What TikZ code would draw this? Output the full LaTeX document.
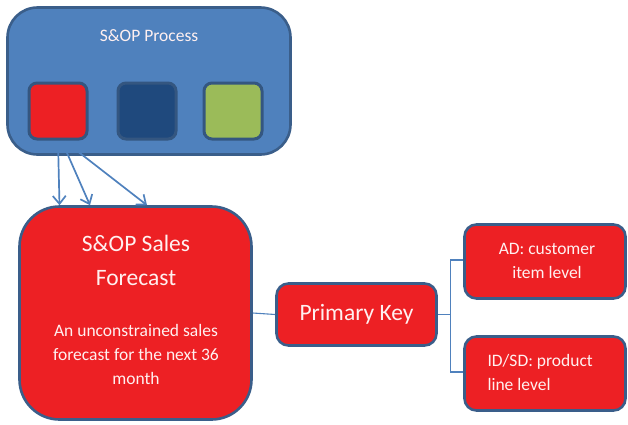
\documentclass[tikz,border=0pt]{standalone}
\usepackage{fontspec}
\setmainfont{Carlito}
\usepackage{xcolor}
\usepackage{tikz}
\usetikzlibrary{positioning, arrows.meta, calc}

\definecolor{boxred}{RGB}{237,32,36}
\definecolor{boxedge}{RGB}{58,94,138}
\definecolor{tileedge}{RGB}{52,86,128}
\definecolor{procblue}{RGB}{79,129,189}
\definecolor{navyblue}{RGB}{31,73,125}
\definecolor{leafgreen}{RGB}{155,187,89}
\definecolor{notewhite}{RGB}{255,240,240}

\tikzset{
	panel/.style={draw=boxedge, line width=2.6pt, rounded corners=#1, inner sep=0pt, text=notewhite},
	tile/.style={panel=8, draw=tileedge, line width=3pt, minimum width=58pt, minimum height=56pt},
	link/.style={draw=procblue, line width=1.1pt},
	feed/.style={draw=procblue, line width=1.7pt, -{Straight Barb[length=8pt, width=13pt, line width=1.7pt]}},
	bigtext/.style={font=\fontsize{23.5}{34}\selectfont, align=center, text=notewhite},
	smalltext/.style={font=\fontsize{17.5}{24}\selectfont, text=notewhite}
}

\begin{document}
\begin{tikzpicture}[x=1pt, y=-1pt]
	% Canvas
	\useasboundingbox (0,0) rectangle (628,424);
	
	% S&OP process panel with its three tiles
	\node[panel=30, fill=procblue, minimum width=283pt, minimum height=147pt] (proc) at (149,81) {};
	\node[smalltext] (proctitle) at (149,36) {S\&OP Process};
	\node[tile, fill=boxred] (sqred) at (58,111) {};
	\node[tile, fill=navyblue] (sqnavy) at (147,111) {};
	\node[tile, fill=leafgreen] (sqgreen) at (233,111) {};
	
	% Sales forecast box
	\node[panel=40, fill=boxred, minimum width=232pt, minimum height=213pt] (fc) at (135.5,313) {};
	\node[bigtext] (fctitle) at (136,260) {S\&OP Sales\\Forecast};
	\node[smalltext, align=center] (fcnote) at (136,354) {An unconstrained sales\\forecast for the next 36\\month};
	
	% Primary key and its two levels
	\node[panel=12, fill=boxred, minimum width=160pt, minimum height=62pt, font=\fontsize{23.5}{28}\selectfont] (pk) at (356.5,314.5) {Primary Key};
	\node[panel=12, fill=boxred, minimum width=161pt, minimum height=74pt] (ad) at (545,261.5) {};
	\node[smalltext, align=center] (adtext) at (547,261) {AD: customer\\item level};
	\node[panel=12, fill=boxred, minimum width=161pt, minimum height=74pt] (idsd) at (545,373.5) {};
	\node[smalltext, align=left, anchor=west] (idsdtext) at (484,372.5) {ID/SD: product\\line level};
	
	% Arrows from the red tile into the forecast box
	\coordinate (t1) at ($(fc.north)+(-76,0)$);
	\coordinate (t2) at ($(fc.north)+(-45.5,0)$);
	\coordinate (t3) at ($(fc.north)+(11.5,0)$);
	\draw[feed] ($(sqred.south)+(0,1)$) -- (t1);
	\draw[feed] ($(sqred.south)+(4,1)$) -- (t2);
	\draw[feed] ($(sqred.south)+(7,1)$) -- (t3);
	
	% Connectors
	\draw[link] (fc.east) -- (pk.west);
	\coordinate (fork) at ($(pk.east)+(13,0)$);
	\draw[link] (pk.east) -- (fork);
	\draw[link] (fork) |- ($(ad.west)+(0,-1.5)$);
	\draw[link] (fork) |- ($(idsd.west)+(0,-1.5)$);
	
\end{tikzpicture}
\end{document}
